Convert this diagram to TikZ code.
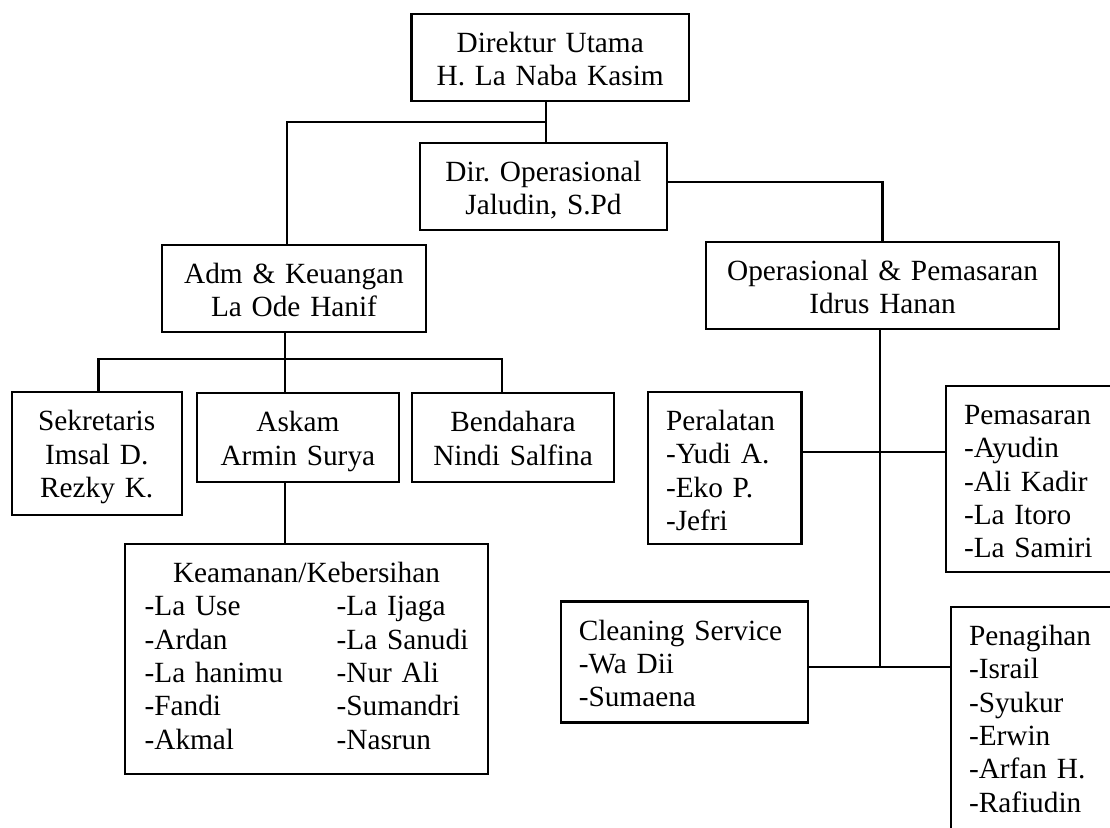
\documentclass[tikz,border=0pt]{standalone}
\usepackage{fontspec}
\setmainfont{Liberation Serif}

\begin{document}
\begin{tikzpicture}[
  x=1pt, y=-1pt,
  font=\fontsize{29.3}{33.3}\selectfont\frenchspacing,
  posbox/.style={draw, line width=2.2pt, align=center, inner sep=0pt,
                 text width=#1, execute at begin node={\rule{0pt}{38.5pt}}},
  listbox/.style={draw, line width=2.2pt, align=left, inner xsep=18pt,
                  inner ysep=0pt, text width=#1,
                  execute at begin node={\rule{0pt}{38.5pt}}},
  bottomgap/.style={execute at end node={\rule[-#1]{0pt}{#1}}},
  conn/.style={line width=2.2pt}
]
\useasboundingbox (0,0) rectangle (1110,827);
\clip (0,0) rectangle (1110,827);

% Pimpinan
\node[posbox=277.5pt, bottomgap=14.9pt] (dirut) at (550.2,57.4)
  {Direktur Utama\\H. La Naba Kasim};
\node[posbox=247pt, bottomgap=15.2pt] (dirop) at (543.5,186.5)
  {Dir. Operasional\\Jaludin, S.Pd};
\node[posbox=264pt, bottomgap=15.2pt] (admkeu) at (294,288.5)
  {Adm \& Keuangan\\La Ode Hanif};
\node[posbox=353pt, bottomgap=15.2pt] (operpem) at (882.5,285.5)
  {Operasional \& Pemasaran\\Idrus Hanan};

% Bagian administrasi
\node[posbox=170pt, bottomgap=17.6pt] (sekr) at (96.7,453.65)
  {Sekretaris\\Imsal D.\\Rezky K.};
\node[posbox=202.3pt, bottomgap=16.6pt] (askam) at (297.85,437.5)
  {Askam\\Armin Surya};
\node[posbox=202pt, bottomgap=16.6pt] (bendahara) at (513,437.5)
  {Bendahara\\Nindi Salfina};
\node[posbox=363pt, bottomgap=158.2pt] (kebersihan) at (306.5,659)
  {Keamanan/Kebersihan\\
   \begin{tabular}[t]{@{}p{192pt}@{}l@{}}
   -La Use & -La Ijaga\\
   -Ardan & -La Sanudi\\
   -La hanimu & -Nur Ali\\
   -Fandi & -Sumandri\\
   -Akmal & -Nasrun
   \end{tabular}};

% Bagian operasional
\node[listbox=117.5pt, bottomgap=13.6pt] (peralatan) at (724.75,468)
  {Peralatan\\-Yudi A.\\-Eko P.\\-Jefri};
\node[listbox=134pt, bottomgap=14.3pt] (pemasaran) at (1031,479)
  {Pemasaran\\-Ayudin\\-Ali Kadir\\-La Itoro\\-La Samiri};
\node[listbox=211.5pt, bottomgap=15.9pt] (cleaning) at (684.5,662)
  {Cleaning Service\\-Wa Dii\\-Sumaena};
\node[listbox=134pt, bottomgap=28pt] (penagihan) at (1036,723.5)
  {Penagihan\\-Israil\\-Syukur\\-Erwin\\-Arfan H.\\-Rafiudin};

% Garis
\coordinate (hub) at (546,122);
\coordinate (admbus) at (285,359);
\coordinate (opmid) at (880,452);
\coordinate (opbus) at (880,667);

\draw[conn] (hub |- dirut.south) -- (hub |- dirop.north);
\draw[conn] (hub) -| ([xshift=-7pt]admkeu.north);
\draw[conn] ([yshift=4.5pt]dirop.east) -| (operpem.north);
\draw[conn] (admbus |- admkeu.south) -- (admbus |- askam.north);
\draw[conn] ([xshift=1.7pt]sekr.north) |- (admbus) -| ([xshift=-11pt]bendahara.north);
\draw[conn] (admbus |- askam.south) -- (admbus |- kebersihan.north);
\draw[conn] (opbus |- operpem.south) -- (opbus);
\draw[conn] (opmid -| peralatan.east) -- (opmid -| pemasaran.west);
\draw[conn] (opbus -| cleaning.east) -- (opbus -| penagihan.west);
\end{tikzpicture}
\end{document}
